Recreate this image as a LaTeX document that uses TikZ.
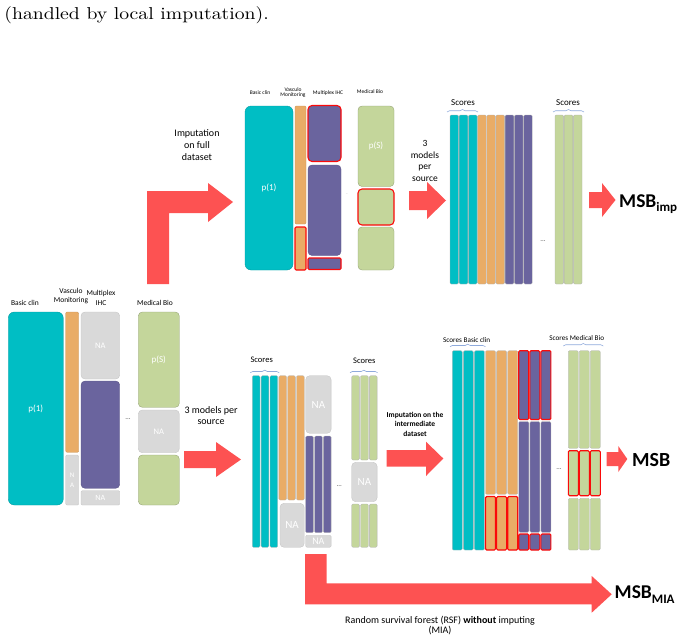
\documentclass[tikz,border=0pt]{standalone}
\usepackage{fontspec}
\setmainfont{Carlito}
\newfontfamily\lmfont{Latin Modern Roman}
\usetikzlibrary{decorations.pathreplacing}
\definecolor{cteal}{RGB}{0,190,196}
\definecolor{corange}{RGB}{233,172,102}
\definecolor{cpurple}{RGB}{106,100,158}
\definecolor{cgreen}{RGB}{196,214,155}
\definecolor{cgray}{RGB}{217,217,217}
\definecolor{carrow}{RGB}{253,82,82}
\definecolor{cred}{RGB}{250,10,10}
\definecolor{cbrace}{RGB}{143,170,220}
\newcommand\bx[7]{\node[#6,anchor=north west,minimum width={(#4)-(#2)},minimum height={(#5)-(#3)}] (#1) at (#2,#3) {#7};}
\tikzset{
  base/.style={inner sep=0pt,outer sep=0pt,line width=0.35pt,text=white,font=\fontsize{9}{10}\selectfont},
  bigbox/.style={base,rounded corners=6pt},
  midbox/.style={base,rounded corners=4pt},
  col/.style={base,rounded corners=1.2pt},
  fteal/.style={fill=cteal,draw=cteal!80!black},
  forange/.style={fill=corange,draw=corange!85!black},
  fpurple/.style={fill=cpurple,draw=cpurple!85!black},
  fgreen/.style={fill=cgreen,draw=cgreen!75!black},
  fgray/.style={fill=cgray,draw=cgray!90!black},
  redo/.style={draw=cred,line width=1.1pt},
  lab/.style={inner sep=0pt,align=center,text=black},
  brc/.style={draw=cbrace,line width=0.6pt,decorate,decoration={brace,amplitude=2.5pt}},
  dots/.style={inner sep=0pt,text=black!70,font=\fontsize{7}{7}\selectfont},
  bigarrow/.style={fill=carrow}
}
\begin{document}
\begin{tikzpicture}[x=1pt,y=-1pt]
\useasboundingbox (0,0) rectangle (685,643);
% title line
\node[anchor=base west,inner sep=0pt,xscale=1.97,yscale=1.72] (title) at (4,19.5) {\lmfont\fontsize{10}{12}\selectfont (handled by local imputation).};

% ================= TOP PANEL =================
\bx{tbc}{245}{106}{293}{270}{bigbox,fteal}{p(1)}
\bx{tvm1}{295}{106}{306}{224}{col,forange}{}
\bx{tvm2}{295}{227}{306}{270}{col,forange,redo}{}
\bx{tmx1}{308}{105.5}{341}{161.5}{midbox,fpurple,redo}{}
\bx{tmx2}{308}{165}{341}{255.5}{midbox,fpurple}{}
\bx{tmx3}{308}{258}{341}{269.5}{col,fpurple,redo}{}
\bx{tmb1}{358}{106}{394}{186.5}{midbox,fgreen}{p(S)}
\bx{tmb2}{358}{189}{394}{225}{midbox,fgreen,redo}{}
\bx{tmb3}{358}{227}{394}{270}{midbox,fgreen}{}
\node[dots,font=\fontsize{3}{3}\selectfont,text=black!40] (tdots) at (347,194) {...};

\node[lab,font=\fontsize{5.5}{5.5}\selectfont] (tlbc) at (260,93) {Basic clin};
\node[lab,font=\fontsize{5.5}{5.5}\selectfont] (tlvm) at (293,92.5) {Vasculo\\Monitoring};
\node[lab,font=\fontsize{5.5}{5.5}\selectfont] (tlmx) at (328,93) {Multiplex IHC};
\node[lab,font=\fontsize{5.5}{5.5}\selectfont] (tlmb) at (370,91.5) {Medical Bio};

\node[lab,font=\fontsize{10}{12}\selectfont] (timp) at (197,145) {Imputation\\on full\\dataset};
\fill[bigarrow] (147,284) -- (147,191) -- (208,191) -- (208,183) -- (233,202) -- (208,222) -- (208,213) -- (169,213) -- (169,284) -- cycle;

\node[lab,font=\fontsize{9.5}{11.7}\selectfont] (t3m) at (425,161) {3\\models\\per\\source};
\fill[bigarrow] (409,191) -- (427,191) -- (427,182) -- (446,200.5) -- (427,219) -- (427,210) -- (409,210) -- cycle;

\foreach \k in {0,1,2}{
  \pgfmathsetmacro\xa{450+\k*9.2}
  \pgfmathsetmacro\xb{450+(\k+3)*9.2}
  \pgfmathsetmacro\xc{450+(\k+6)*9.2}
  \pgfmathsetmacro\xd{555+\k*9.2}
  \bx{ts\k}{\xa}{115}{\xa+8.6}{284}{col,fteal,draw=gray!60}{}
  \bx{tso\k}{\xb}{115}{\xb+8.6}{284}{col,forange,draw=gray!60}{}
  \bx{tsp\k}{\xc}{115}{\xc+8.6}{284}{col,fpurple,draw=gray!60}{}
  \bx{tsg\k}{\xd}{115}{\xd+8.6}{284}{col,fgreen,draw=gray!60}{}
}
\draw[brc] ([shift={(-3,-3)}]ts0.north west) -- ([shift={(1,-3)}]ts2.north east);
\draw[brc] ([shift={(-2,-3)}]tsg0.north west) -- ([shift={(2,-3)}]tsg2.north east);
\node[lab,font=\fontsize{9}{9}\selectfont] (tsc1) at (463,103) {Scores};
\node[lab,font=\fontsize{9}{9}\selectfont] (tsc2) at (568,103) {Scores};
\node[dots] (tsdots) at (543,241) {...};

\fill[bigarrow] (589,192) -- (602,192) -- (602,183) -- (615.5,200) -- (602,217) -- (602,208) -- (589,208) -- cycle;
\node[anchor=base west,inner sep=0pt] (msbimp) at (619,207) {\fontsize{19.5}{20}\selectfont\bfseries MSB\raisebox{-4.5pt}{\fontsize{13}{13}\selectfont imp}};

% ================= BOTTOM LEFT =================
\bx{bbc}{8.3}{312}{63.3}{505}{bigbox,fteal}{p(1)}
\bx{bvm1}{65.7}{312}{78.7}{452.3}{col,forange}{}
\bx{bvm2}{65.7}{455}{78.7}{505}{col,fgray,font=\fontsize{7}{10}\selectfont,align=center}{N\\A}
\bx{bmx1}{81}{312}{119.7}{379}{midbox,fgray,font=\fontsize{8.5}{9}\selectfont}{NA}
\bx{bmx2}{81}{381}{119.7}{488.3}{midbox,fpurple}{}
\bx{bmx3}{81}{490.7}{119.7}{505}{col,fgray,font=\fontsize{8}{9}\selectfont}{NA}
\bx{bmb1}{138.3}{312}{179.3}{407.3}{midbox,fgreen}{p(S)}
\bx{bmb2}{138.3}{410}{179.3}{452.7}{midbox,fgray,font=\fontsize{8.5}{9}\selectfont}{NA}
\bx{bmb3}{138.3}{455}{179.3}{505}{midbox,fgreen}{}
\node[dots] (bdots) at (128,419) {...};

\node[lab,font=\fontsize{7.5}{7.5}\selectfont] (blbc) at (25,302.7) {Basic clin};
\node[lab,font=\fontsize{7.5}{8.3}\selectfont] (blvm) at (71,296) {Vasculo\\Monitoring};
\node[lab,font=\fontsize{7.5}{9.7}\selectfont] (blmx) at (101,298) {Multiplex\\IHC};
\node[lab,font=\fontsize{7.5}{7.5}\selectfont] (blmb) at (155,302.7) {Medical Bio};

\node[lab,font=\fontsize{10}{11}\selectfont] (b3m) at (211,416) {3 models per\\source};
\fill[bigarrow] (184,451) -- (216,451) -- (216,442) -- (241,459.5) -- (216,477) -- (216,468) -- (184,468) -- cycle;

% ================= BOTTOM MIDDLE =================
\foreach \k in {0,1,2}{
  \pgfmathsetmacro\xa{252.3+\k*8.85}
  \pgfmathsetmacro\xb{252.3+(\k+3)*8.85}
  \pgfmathsetmacro\xc{305.7+\k*8.85}
  \pgfmathsetmacro\xd{351.7+\k*8.85}
  \bx{ms\k}{\xa}{375.7}{\xa+7.7}{547.3}{col,fteal,draw=gray!60}{}
  \bx{mso\k}{\xb}{375.7}{\xb+7.7}{500}{col,forange,draw=gray!60}{}
  \bx{msp\k}{\xc}{436}{\xc+7.7}{532.7}{col,fpurple,draw=gray!60}{}
  \bx{msg\k}{\xd}{375.7}{\xd+7.7}{460}{col,fgreen,draw=gray!60}{}
  \bx{msh\k}{\xd}{504}{\xd+7.7}{547.3}{col,fgreen,draw=gray!60}{}
}
\bx{mna1}{280}{503.3}{304.2}{547.3}{midbox,fgray,font=\fontsize{11}{11}\selectfont}{NA}
\bx{mna2}{305.7}{375.7}{331.1}{433.3}{midbox,fgray,font=\fontsize{11}{11}\selectfont}{NA}
\bx{mna3}{305.7}{535.3}{331.1}{547.3}{col,fgray,font=\fontsize{10}{10}\selectfont}{NA}
\bx{mna4}{351.7}{462.3}{377.1}{501.7}{midbox,fgray,font=\fontsize{11}{11}\selectfont}{NA}
\draw[brc] ([shift={(-2,-3)}]ms0.north west) -- ([shift={(1.5,-3)}]ms2.north east);
\draw[brc] ([shift={(-1.7,-3)}]msg0.north west) -- ([shift={(0.5,-3)}]msg2.north east);
\node[lab,font=\fontsize{8.5}{8.5}\selectfont] (msc1) at (261.7,359.3) {Scores};
\node[lab,font=\fontsize{8.5}{8.5}\selectfont] (msc2) at (364.3,360.7) {Scores};
\node[dots] (mdots) at (339.3,486) {...};

\node[lab,font=\fontsize{7.5}{9.2}\selectfont\bfseries] (mimp) at (415,424.3) {Imputation on the\\intermediate\\dataset};
\fill[bigarrow] (386.7,450) -- (426,450) -- (426,441.7) -- (443.3,458.5) -- (426,476) -- (426,466.7) -- (386.7,466.7) -- cycle;

% ================= BOTTOM RIGHT =================
\foreach \k in {0,1,2}{
  \pgfmathsetmacro\xa{452.3+\k*11.08}
  \pgfmathsetmacro\xb{452.3+(\k+3)*11.08}
  \pgfmathsetmacro\xc{452.3+(\k+6)*11.08}
  \pgfmathsetmacro\xd{568.3+\k*11}
  \bx{rs\k}{\xa}{350.7}{\xa+10}{550}{col,fteal,draw=gray!60}{}
  \bx{rso\k}{\xb}{350.7}{\xb+10}{494.3}{col,forange,draw=gray!60}{}
  \bx{rsp\k}{\xc}{421.5}{\xc+10}{532.3}{col,fpurple,draw=gray!60}{}
  \bx{rsg\k}{\xd}{350.7}{\xd+10}{448.3}{col,fgreen,draw=gray!60}{}
  \bx{rsh\k}{\xd}{498.3}{\xd+10}{550}{col,fgreen,draw=gray!60}{}
}
\foreach \k in {0,1,2}{
  \pgfmathsetmacro\xb{452.3+(\k+3)*11.08}
  \pgfmathsetmacro\xc{452.3+(\k+6)*11.08}
  \pgfmathsetmacro\xd{568.3+\k*11}
  \bx{rro\k}{\xb}{496.5}{\xb+10}{550}{col,forange,redo}{}
  \bx{rrp\k}{\xc}{350.7}{\xc+10}{419.5}{col,fpurple,redo}{}
  \bx{rrq\k}{\xc}{534}{\xc+10}{550}{col,fpurple,redo}{}
  \bx{rrg\k}{\xd}{450.7}{\xd+10}{495.7}{col,fgreen,redo}{}
}
\draw[brc] ([shift={(-2.3,-4)}]rs0.north west) -- ([shift={(1,-4)}]rs2.north east);
\draw[brc] ([shift={(-5,-4.7)}]rsg0.north west) -- ([shift={(3,-4.7)}]rsg2.north east);
\node[lab,font=\fontsize{7.2}{7.2}\selectfont] (rsc1) at (466.7,340) {Scores Basic clin};
\node[lab,font=\fontsize{7.2}{7.2}\selectfont] (rsc2) at (576.7,338.3) {Scores Medical Bio};
\node[dots] (rdots) at (559,469) {...};

\fill[bigarrow] (606.7,452) -- (618.3,452) -- (618.3,446) -- (627.3,459) -- (618.3,472) -- (618.3,466) -- (606.7,466) -- cycle;
\node[anchor=base west,inner sep=0pt] (msb) at (632,466) {\fontsize{20}{20}\selectfont\bfseries MSB};

% ================= BOTTOM L ARROW =================
\fill[bigarrow] (305,554) -- (305,604.3) -- (591.7,604.3) -- (591.7,612.7) -- (611.7,594.3) -- (591.7,576) -- (591.7,583.3) -- (326.5,583.3) -- (326.5,554) -- cycle;
\node[anchor=base west,inner sep=0pt] (msbmia) at (614.5,598.5) {\fontsize{19.5}{20}\selectfont\bfseries MSB\raisebox{-4.5pt}{\fontsize{13}{13}\selectfont MIA}};
\node[lab,font=\fontsize{10}{10}\selectfont] (rsf) at (440,626) {Random survival forest (RSF) \textbf{without} imputing\\(MIA)};
\end{tikzpicture}
\end{document}
